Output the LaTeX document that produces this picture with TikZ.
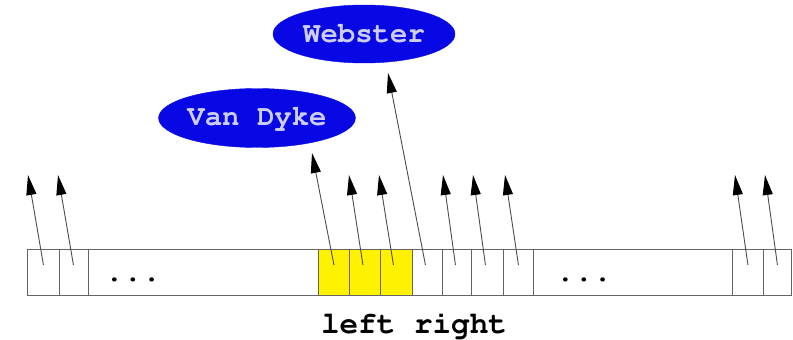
\documentclass[tikz,border=0pt]{standalone}
\usepackage[T1]{fontenc}
\usetikzlibrary{arrows.meta,shapes.geometric}
\definecolor{ovalblue}{RGB}{8,8,228}
\definecolor{ovaltext}{RGB}{205,205,250}
\definecolor{cellline}{RGB}{100,100,100}
\newcommand{\courb}[1]{\fontencoding{T1}\fontfamily{pcr}\fontseries{b}\fontsize{#1}{#1}\selectfont}
\tikzset{
  cell/.style={draw=cellline,line width=0.9pt,minimum height=46pt,inner sep=0pt,anchor=west},
  ycell/.style={cell,fill=yellow},
  oval/.style={ellipse,draw=ovalblue,fill=ovalblue,inner sep=0pt,text=ovaltext,
    font=\courb{29}},
  ptr/.style={draw=black!70,line width=0.9pt,-{Triangle[length=20pt,width=10pt,fill=black,color=black]}},
  lbl/.style={font=\courb{31},inner sep=0pt}
}
\begin{document}
\begin{tikzpicture}[x=1pt,y=-1pt]
\useasboundingbox (0,0) rectangle (793,340);
% cells
\node[cell,minimum width=32pt] (c1) at (27,272) {};
\node[cell,minimum width=29pt] (c2) at (59,272) {};
\node[cell,minimum width=230pt] (d1) at (88,272) {};
\node[ycell,minimum width=31pt] (y1) at (318,272) {};
\node[ycell,minimum width=31pt] (y2) at (349,272) {};
\node[ycell,minimum width=32pt] (y3) at (380,272) {};
\node[cell,minimum width=30pt] (c3) at (412,272) {};
\node[cell,minimum width=29pt] (c4) at (442,272) {};
\node[cell,minimum width=32pt] (c5) at (471,272) {};
\node[cell,minimum width=30pt] (c6) at (503,272) {};
\node[cell,minimum width=199pt] (d2) at (533,272) {};
\node[cell,minimum width=31pt] (c7) at (732,272) {};
\node[cell,minimum width=28pt] (c8) at (763,272) {};
\node[lbl,anchor=base] (dots1) at (133,281) {...};
\node[lbl,anchor=base] (dots2) at (584,281) {...};
\node[lbl,anchor=base] (lr) at (414,333) {left right};
% ovals
\node[oval,minimum width=184pt,minimum height=59pt] (vd) at (257,118) {Van Dyke};
\node[oval,minimum width=182pt,minimum height=58pt] (wb) at (364,34) {Webster};
% arrow tips
\coordinate (t1) at (28,175);
\coordinate (t2) at (58,175);
\coordinate (tvd) at (312,153);
\coordinate (ty2) at (349,175);
\coordinate (ty3) at (379,175);
\coordinate (twb) at (388,73);
\coordinate (t4) at (443,175);
\coordinate (t5) at (473,175);
\coordinate (t6) at (505,175);
\coordinate (t7) at (735,175);
\coordinate (t8) at (765,175);
% pointers
\draw[ptr] ([yshift=7pt]c1.center) -- (t1);
\draw[ptr] ([yshift=7pt,xshift=-0.5pt]c2.center) -- (t2);
\draw[ptr] ([yshift=7pt]y1.center) -- (tvd);
\draw[ptr] ([yshift=7pt,xshift=-2pt]y2.center) -- (ty2);
\draw[ptr] ([yshift=7pt,xshift=-3pt]y3.center) -- (ty3);
\draw[ptr] ([yshift=7pt,xshift=-2pt]c3.center) -- (twb);
\draw[ptr] ([yshift=7pt,xshift=-1.5pt]c4.center) -- (t4);
\draw[ptr] ([yshift=7pt,xshift=-2pt]c5.center) -- (t5);
\draw[ptr] ([yshift=7pt]c6.center) -- (t6);
\draw[ptr] ([yshift=7pt]c7.center) -- (t7);
\draw[ptr] ([yshift=7pt]c8.center) -- (t8);
\end{tikzpicture}
\end{document}
